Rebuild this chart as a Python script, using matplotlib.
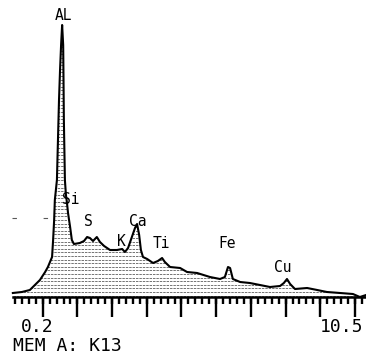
import numpy as np
import matplotlib
matplotlib.use("Agg")
import matplotlib.pyplot as plt
from matplotlib.patches import Polygon

# EDS spectrum, energy in keV, counts in arbitrary units
energy = [0.14, 0.40, 0.63, 0.92, 1.07, 1.15, 1.27, 1.30, 1.33, 1.35,
          1.41, 1.44, 1.47, 1.50, 1.53, 1.56, 1.59, 1.60, 1.61, 1.63,
          1.64, 1.67, 1.70, 1.73, 1.79, 1.84, 1.90, 2.07, 2.19, 2.28,
          2.36, 2.45, 2.56, 2.65, 2.77, 2.94, 3.14, 3.29, 3.37, 3.46,
          3.54, 3.66, 3.72, 3.78, 3.83, 3.89, 4.01, 4.18, 4.32, 4.44,
          4.52, 4.67, 4.96, 5.16, 5.45, 5.82, 6.11, 6.25, 6.34, 6.40,
          6.48, 6.69, 6.97, 7.26, 7.55, 7.84, 7.95, 8.04, 8.13, 8.27,
          8.62, 8.91, 9.19, 9.57, 9.94, 10.14, 10.32]
counts = [4, 5, 7, 17, 25, 30, 40, 57, 77, 97,
          117, 157, 197, 227, 252, 272, 252, 217, 177, 137,
          117, 102, 94, 84, 70, 57, 53, 54, 56, 60,
          59, 56, 60, 55, 51, 47, 47, 48, 45, 49,
          57, 69, 73, 62, 47, 40, 38, 34, 36, 39,
          35, 30, 29, 25, 24, 20, 18, 20, 30, 29,
          18, 15, 14, 12, 10, 11, 14, 18, 13, 8,
          9, 7, 5, 4, 3, 0, 2]

# peak labels
elements = ["AL", "Si", "S", "K", "Ca", "Ti", "Fe", "Cu"]
label_e = [1.61, 1.82, 2.31, 3.26, 3.75, 4.41, 6.31, 7.93]
label_c = [282, 98, 75, 56, 76, 54, 53, 30]

e_start = 0.2
e_end = 10.5
memo = "MEM A: K13"

mono = "DejaVu Sans Mono"

fig = plt.figure(figsize=(3.66, 3.6), dpi=100)
ax = fig.add_axes([0, 0, 1, 1])
ax.set_xlim(-0.2305, 10.317)
ax.set_ylim(-63, 297)
ax.axis("off")

# horizontal dashed hatching under the trace
verts = np.column_stack([energy + energy[::-1], counts + [0] * len(counts)])
area = Polygon(verts, closed=True, fill=False, edgecolor="none")
ax.add_patch(area)
levels = np.arange(1.5, 275, 3.6)
hatch = ax.hlines(levels, energy[0], energy[-1], colors="0.45",
                  linestyles=(0, (2.5, 1)), linewidth=0.7)
hatch.set_clip_path(area)

# trace and baseline
ax.plot(energy, counts, color="black", linewidth=1.5, solid_joinstyle="round")
ax.plot([0.15, 10.4], [0, 0], color="black", linewidth=1.8)

# stray cursor marks on the left
ax.plot([0.12, 1.3], [79, 79], color="0.35", linewidth=0.8,
        linestyle=(0, (4, 24)))

# tick marks: short every 0.2 keV, long every 1 keV
minor = np.round(np.arange(0.2, 10.21, 0.2), 1)
major = np.arange(1, 11)
ax.vlines(minor, -7, 0, colors="black", linewidth=1.7)
ax.vlines(major, -20, 0, colors="black", linewidth=1.7)

for name, e, c in zip(elements, label_e, label_c):
    ax.text(e, c, name, fontsize=10.5, family=mono, ha="center", va="center")

ax.text(0.84, -30, str(e_start), fontsize=13, family=mono,
        ha="center", va="center")
ax.text(10.25, -30, str(e_end), fontsize=13, family=mono,
        ha="right", va="center")
ax.text(0.14, -49, memo, fontsize=13, family=mono, ha="left", va="center")

fig.savefig("out.png", dpi=100, facecolor="white")
